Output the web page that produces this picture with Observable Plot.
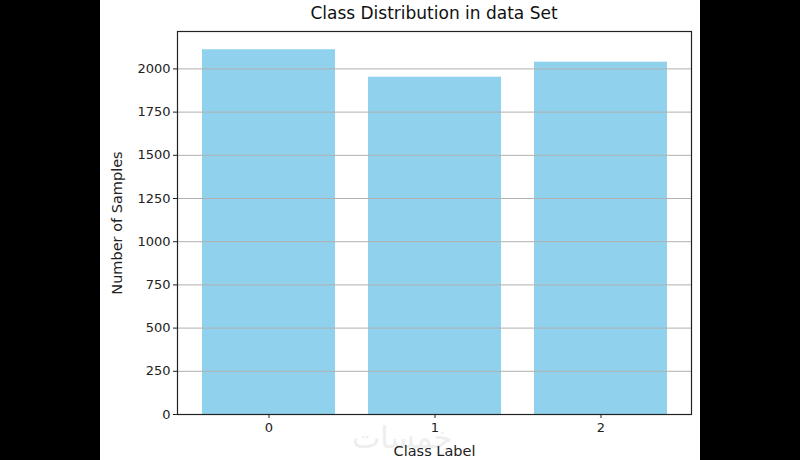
<!DOCTYPE html>
<html>
<head>
<meta charset="utf-8">
<script src="https://cdn.jsdelivr.net/npm/d3@7"></script>
<script src="https://cdn.jsdelivr.net/npm/@observablehq/plot@0.6"></script>
<style>
  html, body { margin: 0; padding: 0; background: #000; }
  #wrap { position: absolute; left: 100px; top: 0; width: 600px; height: 460px; background: #fff; overflow: hidden; }
  #title { position: absolute; left: 0; top: 3px; width: 668px; text-align: center; font: 17px "DejaVu Sans", sans-serif; color: #111; }
  #chart { position: absolute; left: 0; top: 0; }
  #wm { position: absolute; left: 252px; top: 420px; font: 30px "DejaVu Sans", sans-serif; color: #eeeeee; direction: rtl; }
</style>
</head>
<body>
<div id="wrap">
  <div id="wm">خمسات</div>
  <div id="chart"></div>
  <div id="title">Class Distribution in data Set</div>
</div>
<script>
const classes = [0, 1, 2];
const counts = [2111, 1952, 2039];
const yTicks = [0, 250, 500, 750, 1000, 1250, 1500, 1750, 2000];
const titleText = "Class Distribution in data Set";
const xLabel = "Class Label";
const yLabel = "Number of Samples";

const data = classes.map((c, i) => ({cls: c, n: counts[i]}));

const chart = Plot.plot({
  width: 600,
  height: 460,
  marginLeft: 77,
  marginRight: 9,
  marginTop: 31,
  marginBottom: 46,
  style: {fontFamily: "DejaVu Sans, sans-serif", fontSize: "13px", color: "#222", background: "transparent"},
  x: {type: "band", domain: classes, paddingInner: 0.2, paddingOuter: 0.14},
  y: {domain: [0, Math.max(...counts) * 1.05]},
  marks: [
    Plot.barY(data, {x: "cls", y: "n", fill: "skyblue", fillOpacity: 0.92}),
    Plot.gridY(yTicks, {stroke: "#b0b0b0", strokeOpacity: 1, strokeWidth: 1}),
    Plot.frame({stroke: "#222", strokeWidth: 1.2}),
    Plot.axisY(yTicks, {tickSize: 4, tickPadding: 3, stroke: "#222", tickFormat: d => String(d), label: null, fontSize: 13}),
    Plot.axisY([], {tickSize: 0, label: yLabel, labelAnchor: "center", labelArrow: "none", labelOffset: 66, fontSize: 14.5}),
    Plot.axisX(classes, {tickSize: 4, tickPadding: 4, stroke: "#222", tickFormat: d => String(d), label: null, fontSize: 13}),
    Plot.axisX([], {tickSize: 0, label: xLabel, labelAnchor: "center", labelArrow: "none", labelOffset: 41, fontSize: 14.5})
  ]
});
document.getElementById("chart").appendChild(chart);
</script>
</body>
</html>
